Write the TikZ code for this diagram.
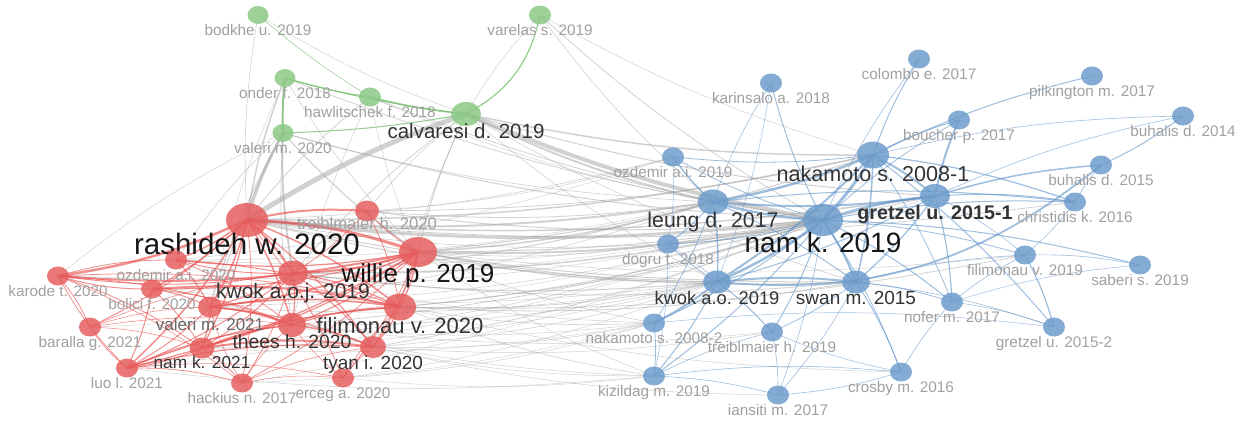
\documentclass[tikz,border=0pt]{standalone}
\usepackage{fontspec}
\setmainfont{Liberation Sans}
\usetikzlibrary{shapes.geometric,backgrounds}
\definecolor{gnode}{HTML}{8CC985}
\definecolor{rnode}{HTML}{E65F5F}
\definecolor{bnode}{HTML}{6E9CCB}
\definecolor{gedge}{HTML}{78C070}
\definecolor{redge}{HTML}{E84545}
\definecolor{bedge}{HTML}{5E92C8}
\definecolor{xedge}{HTML}{A4A4A4}
\definecolor{lsmall}{HTML}{A0A0A0}
\definecolor{lmid}{HTML}{333333}
\definecolor{lbig}{HTML}{151515}
\newcommand\fsz[1]{\fontsize{#1}{#1}\selectfont}

\begin{document}
\begin{tikzpicture}[
  x=1pt, y=-1pt,
  pub/.style={ellipse, inner sep=0pt, minimum width=22pt, minimum height=19pt, fill opacity=.85, label distance=-2pt},
  gp/.style={pub, fill=gnode}, rp/.style={pub, fill=rnode}, bp/.style={pub, fill=bnode},
  tsm/.style={text=lsmall, font=\fsz{15.3}, inner sep=0pt, text opacity=1},
  tmd/.style={text=lmid, font=\fsz{#1}, inner sep=0pt, text opacity=1, yshift=3pt},
  tbg/.style={text=lbig, font=\fsz{#1}, inner sep=0pt, text opacity=1, yshift=4pt},
  xe/.style={draw=xedge, draw opacity=.5},
  ge/.style={draw=gedge, draw opacity=.8},
  re/.style={draw=redge, draw opacity=.6},
  be/.style={draw=bedge, draw opacity=.6}
]
\useasboundingbox (0,0) rectangle (1244,421);

% green cluster
\node[gp, minimum width=21pt, minimum height=18pt, label={[tsm]below:bodkhe u. 2019}] (bodkhe) at (258,15) {};
\node[gp, label={[tsm]below:varelas s. 2019}] (varelas) at (540,15) {};
\node[gp, minimum width=21pt, minimum height=18pt, label={[tsm]below:onder f. 2018}] (onder) at (285,78) {};
\node[gp, label={[tsm]below:hawlitschek f. 2018}] (hawl) at (370,97) {};
\node[gp, minimum width=30pt, minimum height=24pt, label={[tmd=20.5]below:calvaresi d. 2019}] (calv) at (466,114) {};
\node[gp, minimum width=21pt, minimum height=18pt, label={[tsm]below:valeri m. 2020}] (valm20) at (283,133) {};

% red cluster
\node[rp, minimum width=42pt, minimum height=34pt, label={[tbg=29.5]below:rashideh w. 2020}] (rash) at (247,220) {};
\node[rp, minimum width=24pt, minimum height=21pt, label={[tsm, font=\fsz{16.7}, yshift=5pt]below:treiblmaier h. 2020}] (treib20) at (367,211) {};
\node[rp, minimum width=38pt, minimum height=30pt, label={[tbg=26]below:willie p. 2019}] (willie) at (418,252) {};
\node[rp, label={[tsm]below:ozdemir a.i. 2020}] (ozd20) at (176,260) {};
\node[rp, label={[tsm]below:karode t. 2020}] (karode) at (58,276) {};
\node[rp, minimum width=30pt, minimum height=25pt, label={[tmd=21]below:kwok a.o.j. 2019}] (kwokj) at (293,273) {};
\node[rp, label={[tsm]below:bolici f. 2020}] (bolici) at (152,289) {};
\node[rp, minimum width=24pt, minimum height=21pt, label={[tsm, text=gray!80!black, font=\fsz{17}]below:valeri m. 2021}] (valm21) at (210,307) {};
\node[rp, minimum width=32pt, minimum height=27pt, label={[tmd=22]below:filimonau v. 2020}] (filim20) at (400,307) {};
\node[rp, minimum width=28pt, minimum height=24pt, label={[tmd=19.3]below:thees h. 2020}] (thees) at (292,325) {};
\node[rp, label={[tsm]below:baralla g. 2021}] (baralla) at (90,327) {};
\node[rp, minimum width=25pt, minimum height=21pt, label={[tmd=17.3]below:nam k. 2021}] (namk21) at (202,348) {};
\node[rp, minimum width=26pt, minimum height=22pt, label={[tmd=19]below:tyan i. 2020}] (tyan) at (373,347) {};
\node[rp, label={[tsm]below:luo l. 2021}] (luo) at (127,368) {};
\node[rp, label={[tsm]below:hackius n. 2017}] (hackius) at (242,383) {};
\node[rp, label={[tsm]below:erceg a. 2020}] (erceg) at (343,378) {};

% blue cluster
\node[bp, label={[tsm]below:colombo e. 2017}] (colombo) at (919,59) {};
\node[bp, label={[tsm]below:karinsalo a. 2018}] (karin) at (771,83) {};
\node[bp, label={[tsm]below:pilkington m. 2017}] (pilk) at (1092,76) {};
\node[bp, label={[tsm]below:buhalis d. 2014}] (buh14) at (1183,116) {};
\node[bp, label={[tsm]below:boucher p. 2017}] (boucher) at (959,120) {};
\node[bp, minimum width=32pt, minimum height=27pt, label={[tmd=21.6]below:nakamoto s. 2008-1}] (naka1) at (873,155) {};
\node[bp, label={[tsm]below:ozdemir a.i. 2019}] (ozd19) at (673,157) {};
\node[bp, label={[tsm]below:buhalis d. 2015}] (buh15) at (1101,165) {};
\node[bp, minimum width=31pt, minimum height=25pt, label={[tmd=21.3]below:leung d. 2017}] (leung) at (713,202) {};
\node[bp, minimum width=30pt, minimum height=24pt, label={[tmd=19.7, font=\fsz{19.7}\bfseries]below:gretzel u. 2015-1}] (gret1) at (935,196) {};
\node[bp, label={[tsm]below:christidis k. 2016}] (christ) at (1075,202) {};
\node[bp, minimum width=40pt, minimum height=32pt, label={[tbg=28]below:nam k. 2019}] (namk19) at (823,220) {};
\node[bp, label={[tsm]below:dogru t. 2018}] (dogru) at (668,244) {};
\node[bp, label={[tsm]below:filimonau v. 2019}] (filim19) at (1025,255) {};
\node[bp, label={[tsm]below:saberi s. 2019}] (saberi) at (1140,265) {};
\node[bp, minimum width=28pt, minimum height=23pt, label={[tmd=18.3]below:kwok a.o. 2019}] (kwokao) at (717,282) {};
\node[bp, minimum width=28pt, minimum height=23pt, label={[tmd=19]below:swan m. 2015}] (swan) at (856,282) {};
\node[bp, label={[tsm]below:nofer m. 2017}] (nofer) at (952,302) {};
\node[bp, label={[tsm]below:nakamoto s. 2008-2}] (naka2) at (654,323) {};
\node[bp, label={[tsm]below:treiblmaier h. 2019}] (treib19) at (772,332) {};
\node[bp, label={[tsm]below:gretzel u. 2015-2}] (gret2) at (1054,327) {};
\node[bp, label={[tsm]below:crosby m. 2016}] (crosby) at (901,372) {};
\node[bp, label={[tsm]below:kizildag m. 2019}] (kizil) at (654,376) {};
\node[bp, label={[tsm]below:iansiti m. 2017}] (iansiti) at (778,395) {};

\begin{scope}[on background layer]
% links between clusters
\foreach \a/\b/\w in {calv/rash/5, calv/namk19/4, calv/leung/2, calv/naka1/1.5, calv/willie/1, calv/kwokj/.8,
  calv/gret1/1, calv/swan/.6, calv/filim20/.6, calv/treib20/.6, calv/kwokao/.6,
  valm20/rash/3, valm20/kwokj/1.5, valm20/willie/1.2, valm20/namk21/.8, valm20/valm21/1, valm20/ozd20/.6,
  valm20/namk19/1, valm20/leung/.6, valm20/karode/.5, valm20/thees/.8,
  onder/rash/1.5, onder/kwokj/.6, onder/namk19/.8, onder/willie/.6, onder/valm21/.5,
  hawl/rash/.8, hawl/namk19/.8, hawl/willie/.5, hawl/thees/.5, hawl/leung/.5,
  bodkhe/rash/.6, bodkhe/calv/.5,
  varelas/namk19/.8, varelas/leung/.6, varelas/naka1/.5, varelas/calv/.5,
  rash/namk19/3, rash/leung/2, rash/naka1/1.5, rash/gret1/1.5, rash/kwokao/1, rash/swan/1,
  rash/ozd19/.6, rash/dogru/.6, rash/christ/.8,
  willie/namk19/2, willie/leung/1.5, willie/kwokao/1.2, willie/swan/1, willie/naka1/1, willie/gret1/1,
  willie/dogru/.6, willie/naka2/.6, willie/kizil/.5, willie/filim19/.5,
  kwokj/namk19/1.5, kwokj/kwokao/1, kwokj/leung/1, kwokj/swan/.8, kwokj/naka2/.5,
  filim20/namk19/1, filim20/kwokao/.8, filim20/swan/.8, filim20/filim19/.8, filim20/naka2/.6,
  filim20/kizil/.6, filim20/crosby/.5, filim20/gret1/.6,
  treib20/namk19/1, treib20/leung/.8, treib20/naka1/.8, treib20/ozd19/.5,
  thees/namk19/.8, thees/kwokao/.6, thees/naka2/.5, thees/kizil/.5, thees/treib19/.5,
  tyan/namk19/.8, tyan/kwokao/.6, tyan/kizil/.5, tyan/naka2/.5, tyan/iansiti/.5, tyan/treib19/.5,
  valm21/namk19/.6, valm21/leung/.6, valm21/kwokao/.5,
  namk21/namk19/.6, namk21/kwokao/.5, namk21/naka2/.5,
  ozd20/namk19/.5, ozd20/leung/.5, ozd20/ozd19/.5, bolici/namk19/.5, bolici/kwokao/.5,
  luo/namk19/.5, luo/kizil/.5, erceg/kwokao/.5, erceg/naka2/.5, erceg/kizil/.4,
  hackius/namk19/.4, hackius/naka2/.4, karode/namk19/.4, baralla/namk19/.4}
  \draw[xe, line width=\w pt] (\a.center) to[bend right=6] (\b.center);

\foreach \a/\b/\w in {onder/valm20/2, onder/hawl/1, onder/calv/1, valm20/calv/1, hawl/calv/1.5, bodkhe/hawl/.5}
  \draw[ge, line width=\w pt] (\a.center) to[bend right=4] (\b.center);
\draw[ge, line width=1.2pt] (calv.center) to[bend right=25] (varelas.center);

\foreach \a/\b/\w in {rash/willie/3, rash/karode/2.5, rash/kwokj/2, rash/treib20/2, rash/ozd20/1.5, rash/valm21/1.5,
  rash/thees/1.5, rash/filim20/1.5, rash/luo/1.5, rash/namk21/1.2, rash/bolici/1.2, rash/baralla/1,
  rash/tyan/1.2, rash/hackius/.8, rash/erceg/.8,
  willie/karode/2, willie/kwokj/2, willie/ozd20/1.2, willie/valm21/1.5, willie/filim20/1.5, willie/tyan/1.5,
  willie/thees/1.2, willie/namk21/1.2, willie/luo/1.2, willie/treib20/1, willie/bolici/1, willie/erceg/.8,
  willie/hackius/.8,
  kwokj/valm21/1.2, kwokj/thees/1.2, kwokj/namk21/1, kwokj/luo/1, kwokj/filim20/1.2, kwokj/ozd20/1,
  kwokj/tyan/1, kwokj/hackius/.8, kwokj/karode/1,
  bolici/filim20/2, bolici/valm21/1, bolici/luo/1, bolici/karode/1, bolici/namk21/.8, bolici/thees/.8,
  valm21/thees/2, valm21/filim20/1.5, valm21/namk21/1, valm21/luo/1, valm21/tyan/1,
  namk21/tyan/2, namk21/luo/1, namk21/thees/1.2, namk21/hackius/.8, namk21/filim20/1,
  luo/thees/1.2, luo/tyan/1.2, luo/karode/.8, luo/baralla/.8, luo/filim20/1, luo/hackius/.8, luo/erceg/.6,
  karode/baralla/.8, karode/ozd20/.8, karode/hackius/.6, karode/namk21/.8, karode/thees/.8, karode/filim20/.8,
  baralla/valm21/.6, baralla/namk21/.6, baralla/kwokj/.6, baralla/thees/.6,
  hackius/thees/.6, hackius/valm21/.6, hackius/tyan/.6, hackius/erceg/.5,
  erceg/tyan/.8, erceg/filim20/.8, erceg/thees/.6,
  thees/filim20/1.2, thees/tyan/1.5, filim20/tyan/1.2, treib20/kwokj/.8, treib20/filim20/.8,
  ozd20/valm21/1, ozd20/thees/.8, ozd20/filim20/1}
  \draw[re, line width=\w pt] (\b.center) to[bend right=8] (\a.center);

\foreach \a/\b/\w in {naka1/namk19/3, naka1/leung/2.5, naka1/gret1/2, naka1/kwokao/2, naka1/swan/1.5,
  naka1/christ/1.2, naka1/colombo/1, naka1/pilk/1, naka1/boucher/1, naka1/buh14/.6, naka1/gret2/1,
  naka1/nofer/.8, naka1/ozd19/.8,
  namk19/gret1/2.5, namk19/leung/2.5, namk19/swan/2, namk19/kwokao/2.5, namk19/karin/1, namk19/saberi/1,
  namk19/dogru/1, namk19/naka2/1, namk19/kizil/1, namk19/treib19/1, namk19/crosby/.8, namk19/nofer/1,
  namk19/christ/1, namk19/filim19/.8, namk19/ozd19/.8, namk19/iansiti/.6, namk19/boucher/.8, namk19/colombo/.6,
  gret1/leung/2, gret1/christ/1, gret1/buh15/1.5, gret1/nofer/1.2, gret1/swan/1.2, gret1/boucher/2,
  gret1/kwokao/1, gret1/buh14/.6, gret1/filim19/.6,
  leung/kwokao/1.5, leung/dogru/1, leung/ozd19/1.5, leung/naka2/.8, leung/karin/.6, leung/swan/1, leung/christ/1,
  kwokao/swan/2, kwokao/naka2/2, kwokao/kizil/1, kwokao/treib19/.6, kwokao/dogru/.8,
  swan/crosby/1, swan/treib19/.8, swan/nofer/.8, swan/iansiti/.6, swan/gret2/.6, swan/filim19/.6,
  naka2/kizil/.8, naka2/gret2/.5, kizil/treib19/.6, kizil/crosby/.6, kizil/iansiti/.6, treib19/iansiti/.6,
  crosby/iansiti/.6, crosby/nofer/.6, nofer/gret2/.6, nofer/filim19/.6, filim19/saberi/.6, filim19/gret2/1.2,
  christ/buh15/.6, christ/filim19/.6, buh14/buh15/1, dogru/treib19/.5, dogru/kizil/.5, karin/kwokao/.5,
  ozd19/dogru/.5, nofer/saberi/.5, crosby/treib19/.5}
  \draw[be, line width=\w pt] (\a.center) to[bend left=6] (\b.center);
\draw[be, line width=1.8pt] (kwokao.center) to[bend right=22] (buh15.center);
\end{scope}
\end{tikzpicture}
\end{document}
